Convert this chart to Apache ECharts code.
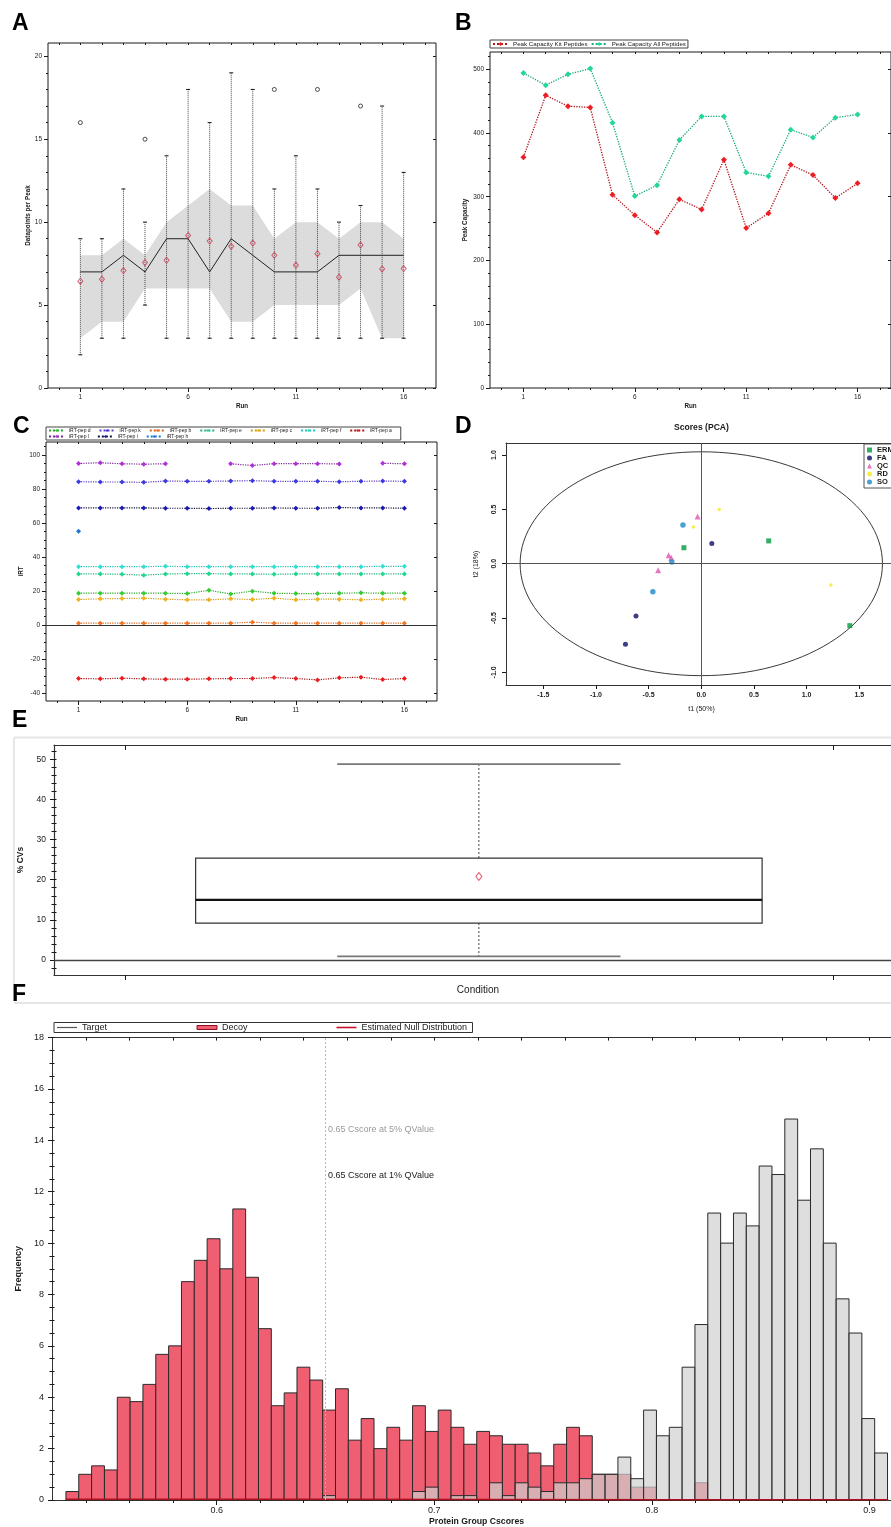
<!DOCTYPE html>
<html>
<head>
<meta charset="utf-8">
<script src="https://cdn.jsdelivr.net/npm/echarts@6/dist/echarts.min.js"></script>
<style>
  html, body { margin: 0; padding: 0; background: #fff; }
  #chart { width: 891px; height: 1527px; }
</style>
</head>
<body>
<div id="chart"></div>
<script>
// ---------- data ----------
const runs = [1, 2, 3, 4, 5, 6, 7, 8, 9, 10, 11, 12, 13, 14, 15, 16];

// A: datapoints per peak, per run
const aMedian = [7, 7, 8, 7, 9, 9, 7, 9, 8, 7, 7, 7, 8, 8, 8, 8];
const aMean = [6.44, 6.56, 7.08, 7.56, 7.7, 9.2, 8.86, 8.54, 8.74, 8.0, 7.4, 8.1, 6.68, 8.62, 7.18, 7.2];
const aBandLow = [3, 4, 4, 6, 6, 6, 6, 4, 4, 5, 5, 5, 5, 6, 3, 3];
const aBandHigh = [8, 8, 9, 8, 10, 11, 12, 11, 11, 9, 10, 10, 9, 10, 10, 9];
const aWhiskerLow = [2, 3, 3, 5, 3, 3, 3, 3, 3, 3, 3, 3, 3, 3, 3, 3];
const aWhiskerHigh = [9, 9, 12, 10, 14, 18, 16, 19, 18, 12, 14, 12, 10, 11, 17, 13];
const aOutlierRun = [1, 4, 10, 12, 14];
const aOutlierVal = [16, 15, 18, 18, 17];

// B: peak capacity
const bKit = [362, 459, 442, 440, 303, 271, 244, 296, 280, 358, 251, 274, 350, 334, 298, 321];
const bAll = [494, 475, 492, 501, 416, 301, 318, 389, 426, 426, 338, 332, 405, 393, 424, 429];

// C: iRT of the kit peptides
const pepL = [95.0, 95.4, 94.8, 94.6, 94.8, null, null, 94.8, 93.8, 94.9, 94.9, 94.9, 94.7, null, 95.1, 94.8];
const pepK = [84.3, 84.1, 84.1, 83.9, 84.7, 84.5, 84.5, 84.7, 84.9, 84.5, 84.5, 84.5, 84.3, 84.5, 84.7, 84.5];
const pepI = [68.9, 68.9, 68.9, 68.9, 68.7, 68.7, 68.5, 68.7, 68.7, 68.9, 68.7, 68.7, 69.1, 68.9, 68.9, 68.7];
const pepH = [55.2, null, null, null, null, null, null, null, null, null, null, null, null, null, null, null];
const pepF = [34.4, 34.4, 34.4, 34.4, 34.6, 34.4, 34.4, 34.4, 34.4, 34.4, 34.4, 34.4, 34.4, 34.4, 34.6, 34.6];
const pepE = [30.1, 30.1, 29.9, 29.4, 30.1, 30.3, 30.3, 30.1, 30.1, 29.9, 30.1, 30.1, 30.1, 30.1, 30.1, 30.1];
const pepD = [18.8, 18.8, 18.8, 18.8, 18.8, 18.6, 20.5, 18.4, 20.0, 18.8, 18.6, 18.6, 18.8, 19.0, 18.8, 18.8];
const pepC = [15.1, 15.5, 15.7, 15.9, 15.3, 14.9, 14.9, 15.5, 15.1, 15.9, 14.9, 15.3, 15.3, 14.9, 15.3, 15.5];
const pepB = [1.2, 1.2, 1.2, 1.2, 1.2, 1.2, 1.2, 1.2, 1.8, 1.2, 1.2, 1.2, 1.2, 1.2, 1.2, 1.2];
const pepA = [-31.3, -31.5, -31.1, -31.5, -31.7, -31.7, -31.5, -31.3, -31.3, -30.7, -31.3, -32.1, -30.9, -30.5, -31.9, -31.3];

// D: PCA scores [t1, t2]
const pcaErm = [[-0.165, 0.147], [0.64, 0.21], [1.41, -0.57]];
const pcaFa = [[0.10, 0.187], [-0.62, -0.48], [-0.72, -0.74]];
const pcaQc = [[-0.035, 0.435], [-0.31, 0.077], [-0.285, 0.055], [-0.41, -0.06]];
const pcaRd = [[0.17, 0.50], [-0.076, 0.337], [1.23, -0.196]];
const pcaSo = [[-0.174, 0.356], [-0.28, 0.015], [-0.46, -0.258]];
const pcaEllipse = [0, 0, 1.72, 1.03]; // centre t1, t2 and radii

// E: %CV box  [min, q1, median, q3, max]
const cvStats = [0.9, 9.2, 15.0, 25.4, 48.8];
const cvMean = 20.8;

// F: Cscore histogram
const fBinStart = 0.5307;
const fBinWidth = 0.0059;
const decoyFreq = [0.33, 1.0, 1.33, 1.17, 4.0, 3.83, 4.5, 5.67, 6.0, 8.5,
  9.33, 10.17, 9.0, 11.33, 8.67, 6.67, 3.67, 4.17, 5.17, 4.67,
  3.5, 4.33, 2.33, 3.17, 2.0, 2.83, 2.33, 3.67, 2.67, 3.5,
  2.83, 2.17, 2.67, 2.5, 2.17, 2.17, 1.83, 1.33, 2.17, 2.83,
  2.5, 1.0, 1.0, 1.0, 0.5, 0.5, 0, 0, 0, 0.67,
  0, 0, 0, 0, 0, 0, 0, 0, 0, 0,
  0, 0, 0, 0];
const targetFreq = [0, 0, 0, 0, 0, 0, 0, 0, 0, 0,
  0, 0, 0, 0, 0, 0, 0, 0, 0, 0,
  0.17, 0, 0, 0, 0, 0, 0, 0.33, 0.5, 0,
  0.17, 0.17, 0, 0.67, 0.17, 0.67, 0.5, 0.33, 0.67, 0.67,
  0.83, 1.0, 1.0, 1.67, 0.83, 3.5, 2.5, 2.83, 5.17, 6.83,
  11.17, 10.0, 11.17, 10.67, 13.0, 12.67, 14.83, 11.67, 13.67, 10.0,
  7.83, 6.5, 3.17, 1.83];
const nullX = [0.5307, 0.65, 0.72, 0.8, 0.9086];
const nullY = [0.03, 0.03, 0.02, 0.01, 0.01];

// tick positions
const runMajor = [1, 6, 11, 16];
const runTicks = [0, 1, 2, 3, 4, 5, 6, 7, 8, 9, 10, 11, 12, 13, 14, 15, 16, 17];
function steps(a, b, s) { const out = []; for (let v = a; v <= b + 1e-9; v += s) out.push(+v.toFixed(4)); return out; }

// ---------- helpers ----------
const SANS = "'Liberation Sans', Arial, Helvetica, sans-serif";
const INK = '#1a1a1a';
const grid = [], xAxis = [], yAxis = [], series = [], legend = [];

function axisBase(gi, extra) {
  return Object.assign({
    type: 'value', gridIndex: gi,
    axisLine: { show: false, onZero: false },
    axisTick: { show: false }, axisLabel: { show: false }, splitLine: { show: false }
  }, extra);
}
function frameLine(color, width) {
  return { show: true, onZero: false, lineStyle: { color: color || '#333', width: width || 1 } };
}
function ticks(values, len, inside) {
  return { show: true, customValues: values, length: len, inside: !!inside, lineStyle: { color: INK, width: 1 } };
}
function labels(values, size, extra) {
  return Object.assign({ show: true, customValues: values, fontSize: size, fontFamily: SANS, color: INK, margin: 6 }, extra || {});
}
function nameStyle(size, bold, extra) {
  return Object.assign({ fontSize: size, fontFamily: SANS, fontWeight: bold ? 'bold' : 'normal', color: INK }, extra || {});
}
function addGrid(box) {
  grid.push(Object.assign({ show: true, borderColor: INK, borderWidth: 1, backgroundColor: 'rgba(0,0,0,0)' }, box));
  return grid.length - 1;
}

function runPanel(box, yMin, yMax, yMajor, yMinor, yName, yGap) {
  const gi = addGrid(box);
  const xr = { min: -0.5, max: 17.5 };
  const xi = xAxis.length;
  xAxis.push(axisBase(gi, Object.assign({ position: 'bottom', name: 'Run', nameLocation: 'middle', nameGap: 15,
    nameTextStyle: nameStyle(6.3, true), axisTick: ticks(runMajor, 4), axisLabel: labels(runMajor, 6.5) }, xr)));
  xAxis.push(axisBase(gi, Object.assign({ position: 'bottom', axisTick: ticks(runTicks, 2) }, xr)));
  xAxis.push(axisBase(gi, Object.assign({ position: 'top', axisTick: ticks(runTicks, 2, true) }, xr)));
  const yr = { min: yMin, max: yMax };
  const yi = yAxis.length;
  yAxis.push(axisBase(gi, Object.assign({ position: 'left', name: yName, nameLocation: 'middle', nameGap: yGap,
    nameTextStyle: nameStyle(6.3, true), axisTick: ticks(yMajor, 4), axisLabel: labels(yMajor, 6.5) }, yr)));
  yAxis.push(axisBase(gi, Object.assign({ position: 'left', axisTick: ticks(yMinor, 2) }, yr)));
  yAxis.push(axisBase(gi, Object.assign({ position: 'right', axisTick: ticks(yMajor, 3, true) }, yr)));
  return { xi: xi, yi: yi };
}

// ---------- A ----------
const A = runPanel({ left: 48, top: 43, width: 388, height: 345 }, 0, 20.8, [0, 5, 10, 15, 20], steps(0, 20, 1), 'Datapoints per Peak', 17);
series.push({
  type: 'custom', name: 'band', xAxisIndex: A.xi, yAxisIndex: A.yi, z: 1, silent: true,
  data: runs.map((r, i) => [r, aBandLow[i], aBandHigh[i]]),
  renderItem: function (params, api) {
    if (params.dataIndex !== 0) return null;
    const pts = [];
    for (let i = 0; i < runs.length; i++) pts.push(api.coord([runs[i], aBandHigh[i]]));
    for (let i = runs.length - 1; i >= 0; i--) pts.push(api.coord([runs[i], aBandLow[i]]));
    return { type: 'polygon', shape: { points: pts }, style: { fill: '#dcdcdc' } };
  }
});
series.push({
  type: 'custom', name: 'whiskers', xAxisIndex: A.xi, yAxisIndex: A.yi, z: 2, silent: true,
  data: runs.map((r, i) => [r, aWhiskerLow[i], aWhiskerHigh[i]]),
  renderItem: function (params, api) {
    const lo = api.coord([api.value(0), api.value(1)]);
    const hi = api.coord([api.value(0), api.value(2)]);
    const cap = 2;
    return { type: 'group', children: [
      { type: 'line', shape: { x1: lo[0], y1: lo[1], x2: hi[0], y2: hi[1] }, style: { stroke: '#444', lineWidth: 1, lineDash: [1, 1] } },
      { type: 'line', shape: { x1: hi[0] - cap, y1: hi[1], x2: hi[0] + cap, y2: hi[1] }, style: { stroke: '#111', lineWidth: 1 } },
      { type: 'line', shape: { x1: lo[0] - cap, y1: lo[1], x2: lo[0] + cap, y2: lo[1] }, style: { stroke: '#111', lineWidth: 1 } }
    ] };
  }
});
series.push({ type: 'line', name: 'median', xAxisIndex: A.xi, yAxisIndex: A.yi, z: 3, silent: true,
  data: runs.map((r, i) => [r, aMedian[i]]), symbol: 'none', lineStyle: { color: '#222', width: 1 } });
series.push({ type: 'scatter', name: 'mean', xAxisIndex: A.xi, yAxisIndex: A.yi, z: 4, silent: true,
  data: runs.map((r, i) => [r, aMean[i]]), symbol: 'diamond', symbolSize: [5, 6],
  itemStyle: { color: 'rgba(0,0,0,0)', borderColor: '#c8384f', borderWidth: 1 } });
series.push({ type: 'scatter', name: 'outlier', xAxisIndex: A.xi, yAxisIndex: A.yi, z: 4, silent: true,
  data: aOutlierRun.map((r, i) => [r, aOutlierVal[i]]), symbol: 'circle', symbolSize: 4,
  itemStyle: { color: 'rgba(0,0,0,0)', borderColor: '#222', borderWidth: 1 } });

// ---------- B ----------
const B = runPanel({ left: 490, top: 52, width: 401, height: 336 }, 0, 527, steps(0, 500, 100), steps(0, 520, 20), 'Peak Capacity', 22);
series.push({ type: 'line', name: 'Peak Capacity Kit Peptides', xAxisIndex: B.xi, yAxisIndex: B.yi,
  data: runs.map((r, i) => [r, bKit[i]]), symbol: 'diamond', symbolSize: 6,
  itemStyle: { color: '#ee1d23' }, lineStyle: { color: '#b0141c', type: 'dotted', width: 1.3 } });
series.push({ type: 'line', name: 'Peak Capacity All Peptides', xAxisIndex: B.xi, yAxisIndex: B.yi,
  data: runs.map((r, i) => [r, bAll[i]]), symbol: 'diamond', symbolSize: 6,
  itemStyle: { color: '#22d69c' }, lineStyle: { color: '#17a97a', type: 'dotted', width: 1.3 } });
legend.push({ data: ['Peak Capacity Kit Peptides', 'Peak Capacity All Peptides'], left: 490, top: 40,
  padding: [1, 2], itemGap: 3, itemWidth: 15, itemHeight: 5, borderColor: '#444', borderWidth: 1,
  textStyle: { fontSize: 6.2, fontFamily: SANS, color: INK, width: 77 } });

// ---------- C ----------
const C = runPanel({ left: 46, top: 442, width: 391, height: 259 }, -44.5, 107.6, steps(-40, 100, 20), steps(-40, 105, 5), 'iRT', 22);
const cLines = [
  ['iRT-pep d', pepD, '#33cc33', '#2aa82a'],
  ['iRT-pep k', pepK, '#3a3ae0', '#5a3ac8'],
  ['iRT-pep b', pepB, '#f27420', '#d8641a'],
  ['iRT-pep e', pepE, '#1fd88f', '#18b478'],
  ['iRT-pep c', pepC, '#f0b21c', '#d29a14'],
  ['iRT-pep f', pepF, '#2fe0d2', '#22bfb2'],
  ['iRT-pep a', pepA, '#ee1c1c', '#a81414'],
  ['iRT-pep l', pepL, '#b12fd6', '#7a2a96'],
  ['iRT-pep i', pepI, '#1a1ab8', '#111133'],
  ['iRT-pep h', pepH, '#1b78d6', '#1b78d6']
];
cLines.forEach(function (c, k) {
  const s = { type: 'line', name: c[0], xAxisIndex: C.xi, yAxisIndex: C.yi,
    data: runs.map((r, i) => [r, c[1][i]]), connectNulls: false, symbol: 'diamond', symbolSize: 5,
    itemStyle: { color: c[2] }, lineStyle: { color: c[3], type: 'dotted', width: 1.2 } };
  if (k === 0) {
    s.markLine = { silent: true, symbol: 'none', label: { show: false },
      lineStyle: { color: '#333', type: 'solid', width: 1 }, data: [{ yAxis: 0 }] };
  }
  series.push(s);
});
legend.push({ data: cLines.map(c => c[0]), left: 46, top: 427, width: 360,
  padding: [1, 2], itemGap: 1, itemWidth: 15, itemHeight: 4, borderColor: '#444', borderWidth: 1,
  formatter: name => name + '     ',
  textStyle: { fontSize: 5, fontFamily: SANS, color: INK } });

// ---------- D ----------
const gD = addGrid({ left: 506, top: 443, width: 385, height: 242, show: false });
const dX = { min: -1.854, max: 1.801 };
const dY = { min: -1.116, max: 1.111 };
const dXi = xAxis.length;
xAxis.push(axisBase(gD, Object.assign({ position: 'bottom', name: 't1 (50%)', nameLocation: 'middle', nameGap: 21,
  nameTextStyle: nameStyle(7, false, { padding: [0, 0, 0, 6] }), axisLine: frameLine('#333'), axisTick: ticks(steps(-1.5, 1.5, 0.5), 4),
  axisLabel: labels(steps(-1.5, 1.5, 0.5), 7, { margin: 7, fontWeight: 'bold', formatter: v => v.toFixed(1) }) }, dX)));
xAxis.push(axisBase(gD, Object.assign({ position: 'top', axisLine: frameLine('#333') }, dX)));
const dYi = yAxis.length;
yAxis.push(axisBase(gD, Object.assign({ position: 'left', name: 't2 (18%)', nameLocation: 'middle', nameGap: 26,
  nameTextStyle: nameStyle(7, false), axisLine: frameLine('#333'), axisTick: ticks(steps(-1, 1, 0.5), 4),
  axisLabel: labels(steps(-1, 1, 0.5), 7, { margin: 8, rotate: 90, fontWeight: 'bold', formatter: v => v.toFixed(1) }) }, dY)));
series.push({ type: 'custom', name: 'ellipse', xAxisIndex: dXi, yAxisIndex: dYi, z: 1, silent: true,
  data: [pcaEllipse],
  renderItem: function (params, api) {
    const c = api.coord([api.value(0), api.value(1)]);
    const r = api.size([api.value(2), api.value(3)]);
    return { type: 'ellipse', shape: { cx: c[0], cy: c[1], rx: r[0], ry: r[1] }, style: { fill: 'none', stroke: '#3a3a3a', lineWidth: 1 } };
  } });
const pcaGroups = [
  ['ERM', pcaErm, 'rect', 5, '#009a3e'],
  ['FA', pcaFa, 'circle', 5, '#0c0c66'],
  ['QC', pcaQc, 'triangle', 6, '#e055b5'],
  ['RD', pcaRd, 'circle', 3.5, '#f2ea1e'],
  ['SO', pcaSo, 'circle', 5.5, '#1a8ac6']
];
pcaGroups.forEach(function (g, k) {
  const s = { type: 'scatter', name: g[0], xAxisIndex: dXi, yAxisIndex: dYi, z: 3,
    data: g[1], symbol: g[2], symbolSize: g[3], itemStyle: { color: g[4] } };
  if (k === 0) {
    s.markLine = { silent: true, symbol: 'none', label: { show: false },
      lineStyle: { color: '#555', type: 'solid', width: 1 }, data: [{ xAxis: 0 }, { yAxis: 0 }] };
  }
  series.push(s);
});
legend.push({ data: pcaGroups.map(g => g[0]), orient: 'vertical', left: 864, top: 444,
  padding: [2, 3], itemGap: 0, itemWidth: 5, itemHeight: 5, borderColor: '#555', borderWidth: 1,
  textStyle: { fontSize: 7.5, fontWeight: 'bold', fontFamily: SANS, color: INK, lineHeight: 8 } });

// ---------- E ----------
const gE = addGrid({ left: 54, top: 745, width: 837, height: 230, show: false });
const eX = { min: -1.2, max: 1.164 };
const eY = { min: -3.74, max: 53.56 };
const eXi = xAxis.length;
xAxis.push(axisBase(gE, Object.assign({ position: 'bottom', name: 'Condition', nameLocation: 'middle', nameGap: 10,
  nameTextStyle: nameStyle(10, false, { padding: [0, 0, 0, 11] }), axisLine: frameLine('#333', 1.2), axisTick: ticks([-1, 1], 5) }, eX)));
xAxis.push(axisBase(gE, Object.assign({ position: 'top', axisLine: frameLine('#333', 1.2), axisTick: ticks([-1, 1], 5, true) }, eX)));
const eYi = yAxis.length;
yAxis.push(axisBase(gE, Object.assign({ position: 'left', name: '% CVs', nameLocation: 'middle', nameGap: 26,
  nameTextStyle: nameStyle(8.5, true), axisLine: frameLine('#333', 1.2), axisTick: ticks(steps(0, 50, 10), 4),
  axisLabel: labels(steps(0, 50, 10), 8.5, { margin: 8 }) }, eY)));
yAxis.push(axisBase(gE, Object.assign({ position: 'left', axisTick: ticks(steps(-2, 52, 2), 2.5) }, eY)));
yAxis.push(axisBase(gE, Object.assign({ position: 'left', axisTick: ticks(steps(-2, 52, 2), 2.5, true) }, eY)));
series.push({ type: 'custom', name: 'cvBox', xAxisIndex: eXi, yAxisIndex: eYi, z: 2, silent: true,
  data: [[0].concat(cvStats)],
  renderItem: function (params, api) {
    const x = api.value(0);
    const pMin = api.coord([x, api.value(1)]), pQ1 = api.coord([x, api.value(2)]);
    const pMed = api.coord([x, api.value(3)]), pQ3 = api.coord([x, api.value(4)]);
    const pMax = api.coord([x, api.value(5)]);
    const half = api.size([0.8, 0])[0], capHalf = api.size([0.4, 0])[0];
    return { type: 'group', children: [
      { type: 'line', shape: { x1: pQ3[0], y1: pQ3[1], x2: pMax[0], y2: pMax[1] }, style: { stroke: '#444', lineWidth: 1, lineDash: [2, 2] } },
      { type: 'line', shape: { x1: pQ1[0], y1: pQ1[1], x2: pMin[0], y2: pMin[1] }, style: { stroke: '#444', lineWidth: 1, lineDash: [2, 2] } },
      { type: 'line', shape: { x1: pMax[0] - capHalf, y1: pMax[1], x2: pMax[0] + capHalf, y2: pMax[1] }, style: { stroke: '#777', lineWidth: 1.6 } },
      { type: 'line', shape: { x1: pMin[0] - capHalf, y1: pMin[1], x2: pMin[0] + capHalf, y2: pMin[1] }, style: { stroke: '#777', lineWidth: 1.6 } },
      { type: 'rect', shape: { x: pQ3[0] - half, y: pQ3[1], width: 2 * half, height: pQ1[1] - pQ3[1] }, style: { fill: 'none', stroke: '#333', lineWidth: 1.2 } },
      { type: 'line', shape: { x1: pMed[0] - half, y1: pMed[1], x2: pMed[0] + half, y2: pMed[1] }, style: { stroke: '#111', lineWidth: 2.2 } }
    ] };
  } });
series.push({ type: 'scatter', name: 'cvMean', xAxisIndex: eXi, yAxisIndex: eYi, z: 3, silent: true,
  data: [[0, cvMean]], symbol: 'diamond', symbolSize: [6, 8],
  itemStyle: { color: 'rgba(0,0,0,0)', borderColor: '#e0304a', borderWidth: 1 },
  markLine: { silent: true, symbol: 'none', label: { show: false },
    lineStyle: { color: '#444', type: 'solid', width: 1.3 }, data: [{ yAxis: 0 }] } });

// ---------- F ----------
const gF = addGrid({ left: 52, top: 1037.6, width: 839, height: 462.4, show: false });
const fX = { min: 0.5243, max: 0.9099 };
const fY = { min: 0, max: 18 };
const fMinor = steps(0.54, 0.9, 0.02);
const fXi = xAxis.length;
xAxis.push(axisBase(gF, Object.assign({ position: 'bottom', name: 'Protein Group Cscores', nameLocation: 'middle', nameGap: 17,
  nameTextStyle: nameStyle(8.7, true, { padding: [0, 0, 0, 10] }), axisLine: frameLine('#333'), axisTick: ticks([0.6, 0.7, 0.8, 0.9], 5),
  axisLabel: labels([0.6, 0.7, 0.8, 0.9], 9, { formatter: v => v.toFixed(1) }) }, fX)));
xAxis.push(axisBase(gF, Object.assign({ position: 'bottom', axisTick: ticks(fMinor, 3) }, fX)));
xAxis.push(axisBase(gF, Object.assign({ position: 'top', axisLine: frameLine('#333'), axisTick: ticks(fMinor, 3, true) }, fX)));
const fYi = yAxis.length;
yAxis.push(axisBase(gF, Object.assign({ position: 'left', name: 'Frequency', nameLocation: 'middle', nameGap: 25,
  nameTextStyle: nameStyle(9, true), axisLine: frameLine('#333'), axisTick: ticks(steps(0, 18, 2), 4),
  axisLabel: labels(steps(0, 18, 2), 9, { margin: 8 }) }, fY)));
yAxis.push(axisBase(gF, Object.assign({ position: 'left', axisTick: ticks(steps(0, 18, 0.5), 2.5) }, fY)));
yAxis.push(axisBase(gF, Object.assign({ position: 'left', axisTick: ticks(steps(0, 18, 0.5), 2.5, true) }, fY)));

function histItem(fill) {
  return function (params, api) {
    const x0 = api.value(0), h = api.value(1);
    if (!(h > 0)) return null;
    const a = api.coord([x0, h]), b = api.coord([x0 + fBinWidth, 0]);
    return { type: 'rect', shape: { x: a[0], y: a[1], width: b[0] - a[0], height: b[1] - a[1] },
      style: { fill: fill, stroke: '#2a2a2a', lineWidth: 1 } };
  };
}
series.push({ type: 'custom', name: 'Decoy', xAxisIndex: fXi, yAxisIndex: fYi, z: 2, silent: true,
  itemStyle: { color: '#ef5f71' },
  data: decoyFreq.map((v, i) => [fBinStart + i * fBinWidth, v]), renderItem: histItem('#ef5f71') });
series.push({ type: 'custom', name: 'Target', xAxisIndex: fXi, yAxisIndex: fYi, z: 3, silent: true,
  itemStyle: { color: '#555' },
  data: targetFreq.map((v, i) => [fBinStart + i * fBinWidth, v]), renderItem: histItem('rgba(208,208,208,0.7)') });
series.push({ type: 'line', name: 'Estimated Null Distribution', xAxisIndex: fXi, yAxisIndex: fYi, z: 4, silent: true,
  data: nullX.map((x, i) => [x, nullY[i]]), symbol: 'none', itemStyle: { color: '#c8102e' },
  lineStyle: { color: '#b0101e', width: 1.6 },
  markLine: { silent: true, symbol: 'none', label: { show: false },
    lineStyle: { color: '#b8b8b8', type: [2, 2], width: 1 }, data: [{ xAxis: 0.65 }] } });
legend.push({ data: [
    { name: 'Target', icon: 'path://M0,0H20V1.2H0Z', itemStyle: { color: '#555' } },
    { name: 'Decoy', icon: 'rect', itemStyle: { color: '#ef5f71', borderColor: '#8a1020', borderWidth: 1 } },
    { name: 'Estimated Null Distribution', icon: 'path://M0,0H20V1.6H0Z', itemStyle: { color: '#c8102e' } }
  ], left: 54, top: 1022.5, padding: [0, 3], itemGap: 6.5, itemWidth: 20, itemHeight: 4,
  borderColor: '#333', borderWidth: 1,
  textStyle: { fontSize: 9, fontFamily: SANS, color: INK, width: 108, lineHeight: 10 } });

// ---------- text & frames ----------
function letter(t, x, y) {
  return { type: 'text', left: x, top: y, style: { text: t, font: 'bold 23px ' + SANS, fill: '#000' } };
}
const graphic = [
  { type: 'line', shape: { x1: 14, y1: 737.5, x2: 891, y2: 737.5 }, style: { stroke: '#e6e6e6', lineWidth: 2 } },
  { type: 'line', shape: { x1: 14, y1: 737.5, x2: 14, y2: 984 }, style: { stroke: '#e6e6e6', lineWidth: 2 } },
  { type: 'line', shape: { x1: 14, y1: 1003, x2: 891, y2: 1003 }, style: { stroke: '#e6e6e6', lineWidth: 2 } },
  letter('A', 12, 12), letter('B', 455, 12), letter('C', 13, 415), letter('D', 455, 415),
  letter('E', 12, 709), letter('F', 12, 983),
  { type: 'text', left: 674, top: 423.5, style: { text: 'Scores (PCA)', font: 'bold 8.6px ' + SANS, fill: INK } },
  { type: 'text', left: 328, top: 1125, style: { text: '0.65 Cscore at 5% QValue', font: '9px ' + SANS, fill: '#9a9a9a' } },
  { type: 'text', left: 328, top: 1171, style: { text: '0.65 Cscore at 1% QValue', font: '9px ' + SANS, fill: '#222' } }
];

const chart = echarts.init(document.getElementById('chart'));
chart.setOption({
  animation: false,
  backgroundColor: '#fff',
  grid: grid, xAxis: xAxis, yAxis: yAxis,
  legend: legend, series: series, graphic: graphic
});
</script>
</body>
</html>
